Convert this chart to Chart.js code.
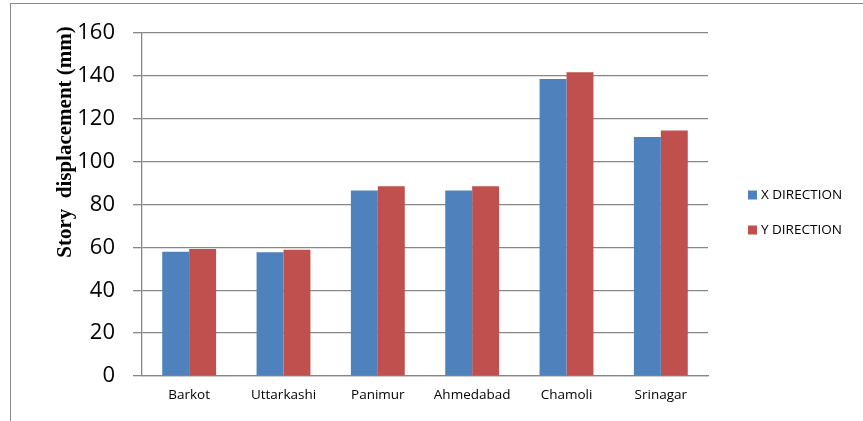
<!DOCTYPE html>
<html><head><meta charset="utf-8">
<script src="https://cdn.jsdelivr.net/npm/chart.js@4.4.0/dist/chart.umd.min.js"></script>
<style>
html,body{margin:0;padding:0;background:#fff;overflow:hidden}
#wrap{position:relative;width:863px;height:421px;overflow:hidden}
#frame{position:absolute;left:10px;top:3px;width:1000px;height:1000px;border:1px solid #8a8a8a;box-sizing:border-box}
canvas{position:absolute;left:0;top:0}
</style></head><body>
<div id="wrap"><div id="frame"></div><canvas id="c" width="863" height="421"></canvas></div>
<script>
const categories = ['Barkot', 'Uttarkashi', 'Panimur', 'Ahmedabad', 'Chamoli', 'Srinagar'];
const xDirection = [58.0, 57.7, 86.5, 86.5, 138.5, 111.5];
const yDirection = [59.2, 58.9, 88.5, 88.5, 141.7, 114.5];
const seriesNames = ['X DIRECTION', 'Y DIRECTION'];
const seriesColors = ['#4F81BD', '#C0504D'];
const yMin = 0, yMax = 160, yStep = 20;
const yTitle = 'Story  displacement (mm)';

const gridColor = '#868686';
const labelFont = '"Open Sans", "DejaVu Sans", sans-serif';

const extras = {
  id: 'extras',
  afterDraw(chart) {
    const ctx = chart.ctx;
    ctx.save();
    // y-axis title
    ctx.translate(66, 142);
    ctx.rotate(-Math.PI / 2);
    ctx.font = 'bold 21px "Liberation Serif", "Times New Roman", serif';
    ctx.fillStyle = '#000';
    ctx.textAlign = 'center';
    ctx.textBaseline = 'middle';
    ctx.fillText(yTitle, 0, 0);
    ctx.restore();
    // legend
    ctx.save();
    ctx.font = '13.5px ' + labelFont;
    ctx.textBaseline = 'middle';
    ctx.textAlign = 'left';
    const ys = [195, 230];
    chart.data.datasets.forEach((ds, i) => {
      ctx.fillStyle = ds.backgroundColor;
      ctx.fillRect(748, ys[i] - 4.5, 9, 9);
      ctx.fillStyle = '#000';
      ctx.fillText(ds.label, 761, ys[i]);
    });
    ctx.restore();
  }
};

new Chart(document.getElementById('c'), {
  type: 'bar',
  data: {
    labels: categories,
    datasets: [
      { label: seriesNames[0], data: xDirection, backgroundColor: seriesColors[0], borderWidth: 0 },
      { label: seriesNames[1], data: yDirection, backgroundColor: seriesColors[1], borderWidth: 0 }
    ]
  },
  options: {
    responsive: false,
    animation: false,
    devicePixelRatio: 1,
    layout: { padding: { left: 0, right: 155, top: 33, bottom: 0 } },
    plugins: { legend: { display: false }, tooltip: { enabled: false } },
    datasets: { bar: { categoryPercentage: 0.571, barPercentage: 1 } },
    scales: {
      x: {
        grid: { display: false, drawTicks: false, tickLength: 0 },
        border: { display: true, color: gridColor, width: 1.3 },
        ticks: { color: '#000', font: { family: labelFont, size: 13.5 }, padding: 11, maxRotation: 0 },
        afterFit(s) { s.height = 45; }
      },
      y: {
        min: yMin, max: yMax,
        ticks: { stepSize: yStep, color: '#000', font: { family: labelFont, size: 22 }, padding: 18 },
        grid: { color: gridColor, lineWidth: 1.3, tickLength: 9, drawTicks: true },
        border: { display: true, color: gridColor, width: 1.3 },
        afterFit(s) { s.width = 142; }
      }
    }
  },
  plugins: [extras]
});
</script>
</body></html>
